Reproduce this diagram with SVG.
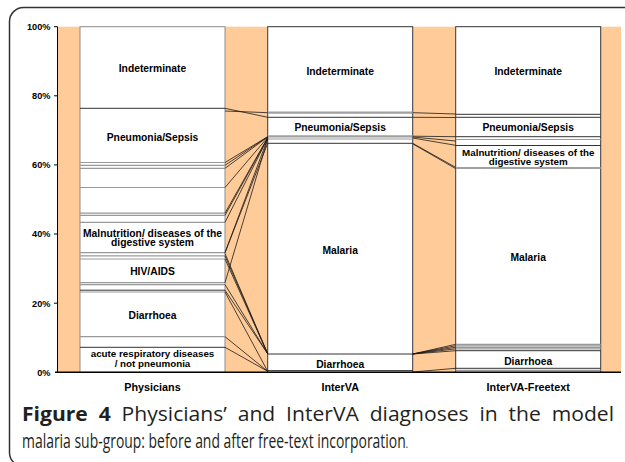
<svg xmlns="http://www.w3.org/2000/svg" width="625" height="462" viewBox="0 0 625 462">
<style>
.band{fill:#FFCC99;stroke:none}
.barP{fill:#fff;stroke:#8c8c8c;stroke-width:1}
.bar{fill:#fff;stroke:#333;stroke-width:1}
.g{stroke:#999;stroke-width:1.2;fill:none}
.gt{stroke:#a0a0a0;stroke-width:2.2;fill:none}
.d{stroke:#333;stroke-width:1;fill:none}
.c{stroke:#1a1a1a;stroke-width:0.8;fill:none}
.ax{stroke:#000;stroke-width:1;fill:none}
.lbl{font-family:"Liberation Sans",Arial,sans-serif;font-weight:bold;font-size:10.3px;text-anchor:middle;fill:#000}
.sm{font-size:9.8px}
.tk{font-family:"Liberation Sans",Arial,sans-serif;font-weight:bold;font-size:9.2px;text-anchor:end;fill:#000}
.cat{font-family:"Liberation Sans",Arial,sans-serif;font-weight:bold;font-size:10.8px;text-anchor:middle;fill:#000}
.cap{font-family:"Open Sans","Noto Sans",sans-serif;font-size:19.5px;fill:#231f20}
</style>
<rect x="9.5" y="7.5" width="640" height="459" rx="14" ry="14" fill="none" stroke="#333" stroke-width="1.5"/>

<g id="bands">
<rect class="band" x="57.5" y="26.7" width="22.5" height="345.6"/>
<rect class="band" x="225" y="26.7" width="42.7" height="345.6"/>
<rect class="band" x="412.7" y="26.7" width="43" height="345.6"/>
<rect class="band" x="600.7" y="26.7" width="20.3" height="345.6"/>
</g>

<g id="axis">
<line class="ax" x1="57.5" y1="26.7" x2="57.5" y2="372.3"/>
<line class="ax" x1="54" y1="26.7" x2="57.5" y2="26.7"/>
<line class="ax" x1="54" y1="95.8" x2="57.5" y2="95.8"/>
<line class="ax" x1="54" y1="164.9" x2="57.5" y2="164.9"/>
<line class="ax" x1="54" y1="234" x2="57.5" y2="234"/>
<line class="ax" x1="54" y1="303.2" x2="57.5" y2="303.2"/>
<text class="tk" x="50.5" y="30">100%</text>
<text class="tk" x="50.5" y="99.1">80%</text>
<text class="tk" x="50.5" y="168.2">60%</text>
<text class="tk" x="50.5" y="237.3">40%</text>
<text class="tk" x="50.5" y="306.5">20%</text>
<text class="tk" x="50.5" y="375.6">0%</text>
</g>

<g id="physicians">
<rect class="barP" x="80" y="26.7" width="145" height="345.6"/>
<line class="d" x1="80" y1="108.3" x2="225" y2="108.3"/>
<line class="g" x1="80" y1="162.5" x2="225" y2="162.5"/>
<line class="g" x1="80" y1="165.3" x2="225" y2="165.3"/>
<line class="g" x1="80" y1="168.3" x2="225" y2="168.3"/>
<line class="g" x1="80" y1="187.5" x2="225" y2="187.5"/>
<line class="g" x1="80" y1="213.1" x2="225" y2="213.1"/>
<line class="g" x1="80" y1="215.3" x2="225" y2="215.3"/>
<line class="g" x1="80" y1="222.3" x2="225" y2="222.3"/>
<line class="g" x1="80" y1="252.7" x2="225" y2="252.7"/>
<line class="g" x1="80" y1="255.9" x2="225" y2="255.9"/>
<line class="g" x1="80" y1="259" x2="225" y2="259"/>
<line class="g" x1="80" y1="282.7" x2="225" y2="282.7"/>
<line class="g" x1="80" y1="284.6" x2="225" y2="284.6"/>
<line class="d" x1="80" y1="290.2" x2="225" y2="290.2"/>
<line class="g" x1="80" y1="292" x2="225" y2="292"/>
<line class="g" x1="80" y1="336.7" x2="225" y2="336.7"/>
<line class="d" x1="80" y1="347.3" x2="225" y2="347.3"/>
<text class="lbl" x="152.5" y="72">Indeterminate</text>
<text class="lbl" x="152.5" y="141.4">Pneumonia/Sepsis</text>
<text class="lbl" x="152.5" y="236.6">Malnutrition/ diseases of the</text>
<text class="lbl" x="152.5" y="246.2">digestive system</text>
<text class="lbl" x="152.5" y="275.4">HIV/AIDS</text>
<text class="lbl" x="152.5" y="318.7">Diarrhoea</text>
<text class="lbl sm" x="152.5" y="357.2">acute respiratory diseases</text>
<text class="lbl sm" x="152.5" y="366.5">/ not pneumonia</text>
</g>

<g id="interva">
<rect class="bar" x="267.7" y="26.7" width="145" height="345.6"/>
<line class="gt" x1="267.7" y1="112.7" x2="412.7" y2="112.7"/>
<line class="d" x1="267.7" y1="117.3" x2="412.7" y2="117.3"/>
<line class="gt" x1="267.7" y1="136.3" x2="412.7" y2="136.3"/>
<line class="g" x1="267.7" y1="139" x2="412.7" y2="139"/>
<line class="d" x1="267.7" y1="143.3" x2="412.7" y2="143.3"/>
<line class="d" x1="267.7" y1="354" x2="412.7" y2="354" stroke-width="1.4"/>
<line class="d" x1="267.7" y1="370.6" x2="412.7" y2="370.6" stroke-width="1.4"/>
<text class="lbl" x="340.2" y="74.7">Indeterminate</text>
<text class="lbl" x="340.2" y="131.4">Pneumonia/Sepsis</text>
<text class="lbl" x="340.2" y="253.7">Malaria</text>
<text class="lbl" x="340.2" y="368">Diarrhoea</text>
</g>

<g id="interva-freetext">
<rect class="bar" x="455.7" y="26.7" width="145" height="345.6"/>
<line class="d" x1="455.7" y1="114.3" x2="600.7" y2="114.3"/>
<line class="d" x1="455.7" y1="117.3" x2="600.7" y2="117.3"/>
<line class="d" x1="455.7" y1="136.7" x2="600.7" y2="136.7"/>
<line class="g" x1="455.7" y1="139.5" x2="600.7" y2="139.5"/>
<line class="d" x1="455.7" y1="145.5" x2="600.7" y2="145.5"/>
<line class="gt" x1="455.7" y1="168" x2="600.7" y2="168" stroke-width="2.6"/>
<line class="g" x1="455.7" y1="344.3" x2="600.7" y2="344.3"/>
<line class="g" x1="455.7" y1="345.8" x2="600.7" y2="345.8"/>
<line class="g" x1="455.7" y1="347.3" x2="600.7" y2="347.3"/>
<line class="g" x1="455.7" y1="348.8" x2="600.7" y2="348.8"/>
<line class="d" x1="455.7" y1="350.7" x2="600.7" y2="350.7"/>
<line class="d" x1="455.7" y1="368.3" x2="600.7" y2="368.3"/>
<line class="g" x1="455.7" y1="370.4" x2="600.7" y2="370.4"/>
<text class="lbl" x="528.2" y="74.7">Indeterminate</text>
<text class="lbl" x="528.2" y="131.4">Pneumonia/Sepsis</text>
<text class="lbl sm" x="528.2" y="156">Malnutrition/ diseases of the</text>
<text class="lbl sm" x="528.2" y="165">digestive system</text>
<text class="lbl" x="528.2" y="261.4">Malaria</text>
<text class="lbl" x="528.2" y="365.4">Diarrhoea</text>
</g>

<g id="connectors">
<line class="c" x1="225" y1="108.3" x2="267.7" y2="117.3"/>
<line class="c" x1="225" y1="111" x2="267.7" y2="112.7"/>
<line class="c" x1="225" y1="162.5" x2="267.7" y2="136.7"/>
<line class="c" x1="225" y1="165.3" x2="267.7" y2="136.7"/>
<line class="c" x1="225" y1="168.3" x2="267.7" y2="137"/>
<line class="c" x1="225" y1="187.5" x2="267.7" y2="137.3"/>
<line class="c" x1="225" y1="213.1" x2="267.7" y2="137.6"/>
<line class="c" x1="225" y1="215.3" x2="267.7" y2="138"/>
<line class="c" x1="225" y1="222.3" x2="267.7" y2="138.3"/>
<line class="c" x1="225" y1="252.7" x2="267.7" y2="138.6"/>
<line class="c" x1="225" y1="252.7" x2="267.7" y2="143.3" stroke-width="1.3"/>
<line class="c" x1="225" y1="282.7" x2="267.7" y2="139"/>
<line class="c" x1="225" y1="253.5" x2="267.7" y2="353.8"/>
<line class="c" x1="225" y1="255.9" x2="267.7" y2="353.8"/>
<line class="c" x1="225" y1="259" x2="267.7" y2="353.8"/>
<line class="c" x1="225" y1="284.6" x2="267.7" y2="353.8"/>
<line class="c" x1="225" y1="290.2" x2="267.7" y2="353.8" stroke-width="1.2"/>
<line class="c" x1="225" y1="292" x2="267.7" y2="371.3"/>
<line class="c" x1="225" y1="336.7" x2="267.7" y2="371.3"/>
<line class="c" x1="225" y1="347.3" x2="267.7" y2="371.3"/>

<line class="c" x1="412.7" y1="112.7" x2="455.7" y2="114"/>
<line class="c" x1="412.7" y1="117.3" x2="455.7" y2="117.5"/>
<line class="c" x1="412.7" y1="136.2" x2="455.7" y2="136.7"/>
<line class="c" x1="412.7" y1="137" x2="455.7" y2="141"/>
<line class="c" x1="412.7" y1="138" x2="455.7" y2="145.3"/>
<line class="c" x1="412.7" y1="143.3" x2="455.7" y2="167.4" stroke-width="1.1"/>
<line class="c" x1="412.7" y1="143.8" x2="455.7" y2="168.6"/>
<line class="c" x1="412.7" y1="354" x2="455.7" y2="344.3"/>
<line class="c" x1="412.7" y1="354" x2="455.7" y2="345.8"/>
<line class="c" x1="412.7" y1="354" x2="455.7" y2="347.3"/>
<line class="c" x1="412.7" y1="354" x2="455.7" y2="348.8"/>
<line class="c" x1="412.7" y1="354" x2="455.7" y2="350.7"/>
<line class="c" x1="412.7" y1="372" x2="455.7" y2="368.3" stroke-width="1.1"/>
</g>

<line x1="55" y1="372.3" x2="621" y2="372.3" stroke="#000" stroke-width="1.4"/>

<g id="categories">
<text class="cat" x="152.5" y="391">Physicians</text>
<text class="cat" x="340.2" y="391">InterVA</text>
<text class="cat" x="528.2" y="391">InterVA-Freetext</text>
</g>

<g id="caption">
<text class="cap" x="22" y="421" word-spacing="5" textLength="592" lengthAdjust="spacingAndGlyphs"><tspan font-weight="bold">Figure 4</tspan> Physicians’ and InterVA diagnoses in the model</text>
<text class="cap" x="22" y="448" textLength="386" lengthAdjust="spacingAndGlyphs">malaria sub-group: before and after free-text incorporation<tspan font-size="12">.</tspan></text>
</g>
</svg>
